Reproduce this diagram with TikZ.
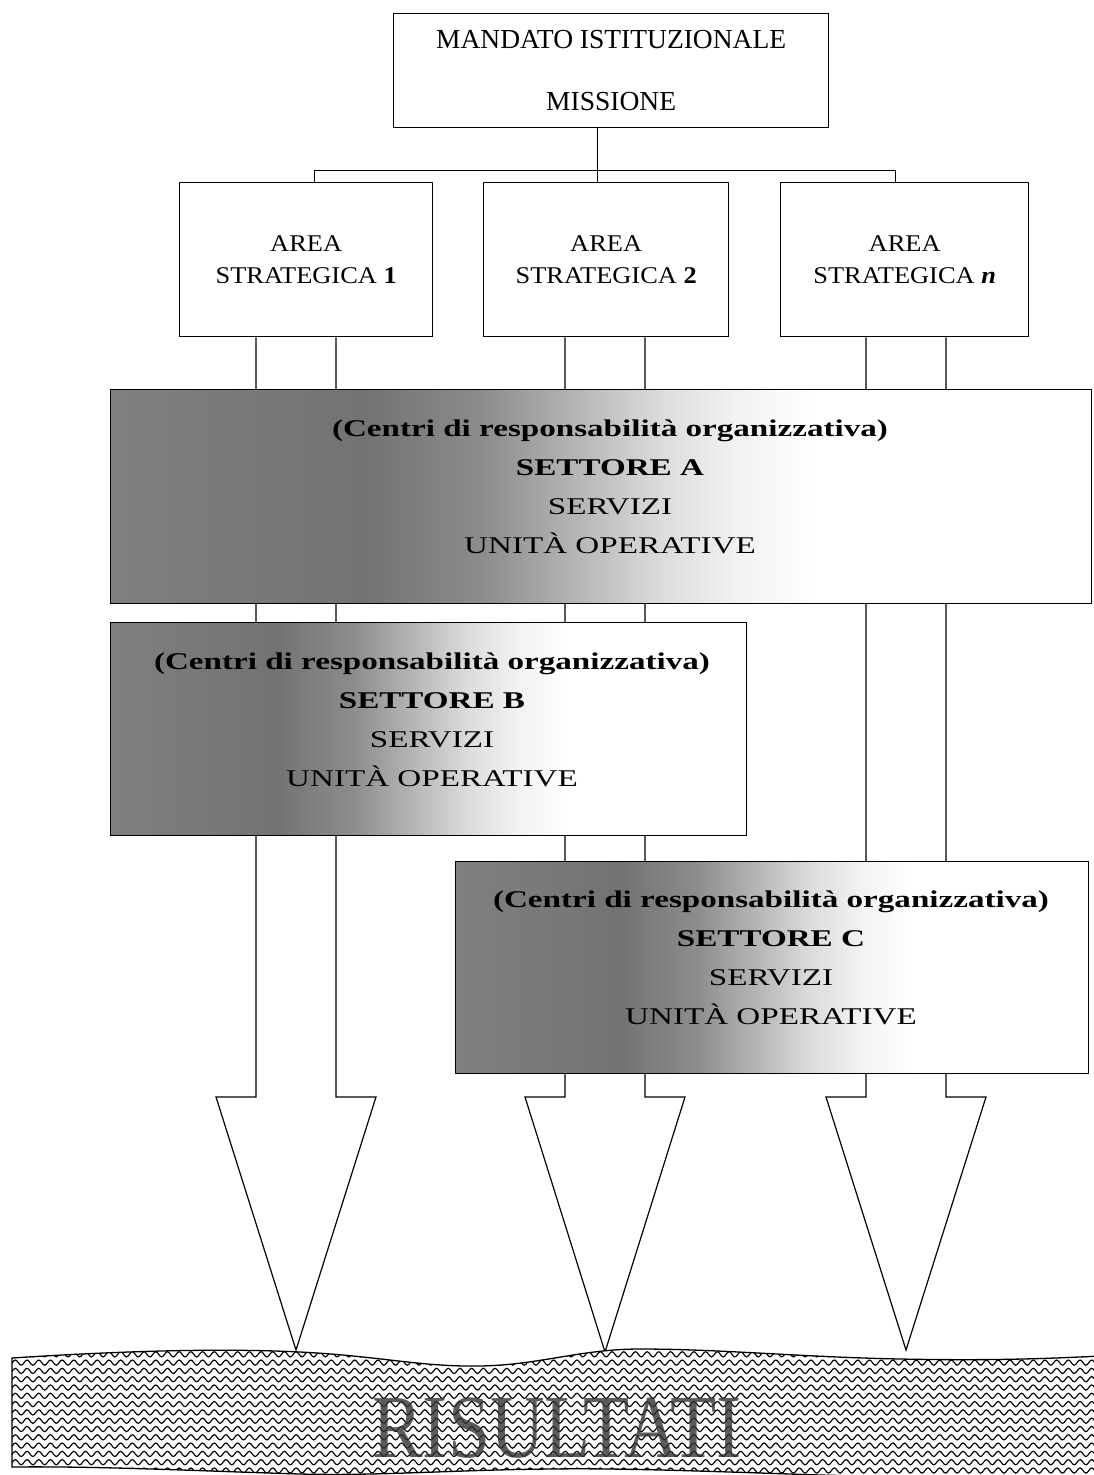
\documentclass[tikz,border=0pt]{standalone}
\usepackage{fontspec}
\setmainfont{Liberation Serif}
\newfontfamily\areafont[FakeStretch=1.1]{Liberation Serif}
\newfontfamily\setfont[FakeStretch=1.38]{Liberation Serif}
\newfontfamily\risfont[FakeStretch=0.84]{Liberation Serif}
\usetikzlibrary{decorations.pathmorphing,calc}
\pgfdeclarehorizontalshading{setshade}{100bp}{color(0bp)=(black!50); color(25bp)=(black!50); color(38bp)=(black!55); color(44bp)=(black!45); color(49bp)=(black!28); color(53bp)=(black!14); color(57bp)=(black!5); color(61bp)=(white); color(100bp)=(white)}
\tikzset{
  plainbox/.style={draw, line width=1.3, fill=white, inner sep=0pt, anchor=north west, align=center},
  areabox/.style={plainbox, minimum height=154, font=\areafont\fontsize{24}{32}\selectfont},
  setbox/.style={draw, line width=1.4, shading=setshade, inner sep=0pt, anchor=north west},
  settext/.style={align=center, inner sep=0pt, font=\setfont\fontsize{24}{39}\selectfont},
  conn/.style={line width=1},
  arrowline/.style={line width=1.2, line join=miter},
  wave/.style={line width=1.15, decorate, decoration={snake, segment length=11.7, amplitude=2.6}}
}
\begin{document}
\begin{tikzpicture}[x=1pt, y=-1pt]
\useasboundingbox (0,0) rectangle (1093,1475);
\fill[white] (0,0) rectangle (1093,1475);

% top box
\node[plainbox, minimum width=435, minimum height=114, font=\fontsize{27.5}{31}\selectfont] (top) at (393,13)
  {MANDATO ISTITUZIONALE\\[31pt]MISSIONE};

\coordinate (j) at (597,170);
\coordinate (d1) at (314,170);
\coordinate (dn) at (895,170);

% strategic areas
\node[areabox, minimum width=253] (a1) at (179,182) {AREA\\STRATEGICA \textbf{1}};
\node[areabox, minimum width=245] (a2) at (483,182) {AREA\\STRATEGICA \textbf{2}};
\node[areabox, minimum width=248] (an) at (780,182) {AREA\\STRATEGICA \textbf{\textit{n}}};

% big arrows (drawn first, boxes cover them)
\foreach \n/\cx/\ty in {a1/296/1350, a2/605/1352, an/906/1350}{
  \pgfmathsetmacro\xl{\cx-40}
  \pgfmathsetmacro\xr{\cx+40}
  \pgfmathsetmacro\hl{\cx-80}
  \pgfmathsetmacro\hr{\cx+80}
  \coordinate (tip-\n) at (\cx,\ty);
  \draw[arrowline] (\n.south -| \xl,0) -- (\xl,1097) -- (\hl,1097) -- (tip-\n)
     -- (\hr,1097) -- (\xr,1097) -- (\n.south -| \xr,0);
}

\draw[conn] (top.south -| j) -- (j);
\draw[conn] (d1 |- a1.north) -- (d1) -- (dn) -- (dn |- an.north);
\draw[conn] (j) -- (j |- a2.north);

% settori
\node[setbox, minimum width=981, minimum height=214] (sa) at (110,389) {};
\node[setbox, minimum width=636, minimum height=213] (sb) at (110,622) {};
\node[setbox, minimum width=633, minimum height=212] (sc) at (455,861) {};

\node[settext] (saT) at (610,487) {\textbf{(Centri di responsabilità organizzativa)}\\\textbf{SETTORE A}\\SERVIZI\\UNITÀ OPERATIVE};
\node[settext] (sbT) at (432,720) {\textbf{(Centri di responsabilità organizzativa)}\\\textbf{SETTORE B}\\SERVIZI\\UNITÀ OPERATIVE};
\node[settext] (scT) at (771,958) {\textbf{(Centri di responsabilità organizzativa)}\\\textbf{SETTORE C}\\SERVIZI\\UNITÀ OPERATIVE};

% risultati banner
\def\bannerpath{(12,1358) .. controls (120,1351) and (220,1348) .. (300,1352)
  .. controls (380,1356) and (420,1367) .. (480,1366)
  .. controls (540,1365) and (580,1349) .. (640,1349)
  .. controls (720,1349) and (800,1357) .. (900,1359)
  .. controls (1000,1361) and (1060,1358) .. (1100,1356)
  -- (1100,1482) .. controls (1000,1480) and (900,1477) .. (820,1475)
  .. controls (700,1471) and (620,1468) .. (550,1469)
  .. controls (450,1470) and (380,1476) .. (300,1474)
  .. controls (200,1471) and (100,1466) .. (12,1467) -- cycle}
\fill[white] \bannerpath;
\begin{scope}
  \clip \bannerpath;
  \foreach \y in {1346,1354.3,...,1490}{
    \draw[wave] (0,\y) -- (1110,\y);
  }
\end{scope}
\draw[line width=1.3] \bannerpath;
\node[font=\risfont\fontsize{90}{90}\selectfont, text=black!80, text opacity=0.8, inner sep=0pt] (ris) at (557,1428) {RISULTATI};
\end{tikzpicture}
\end{document}
